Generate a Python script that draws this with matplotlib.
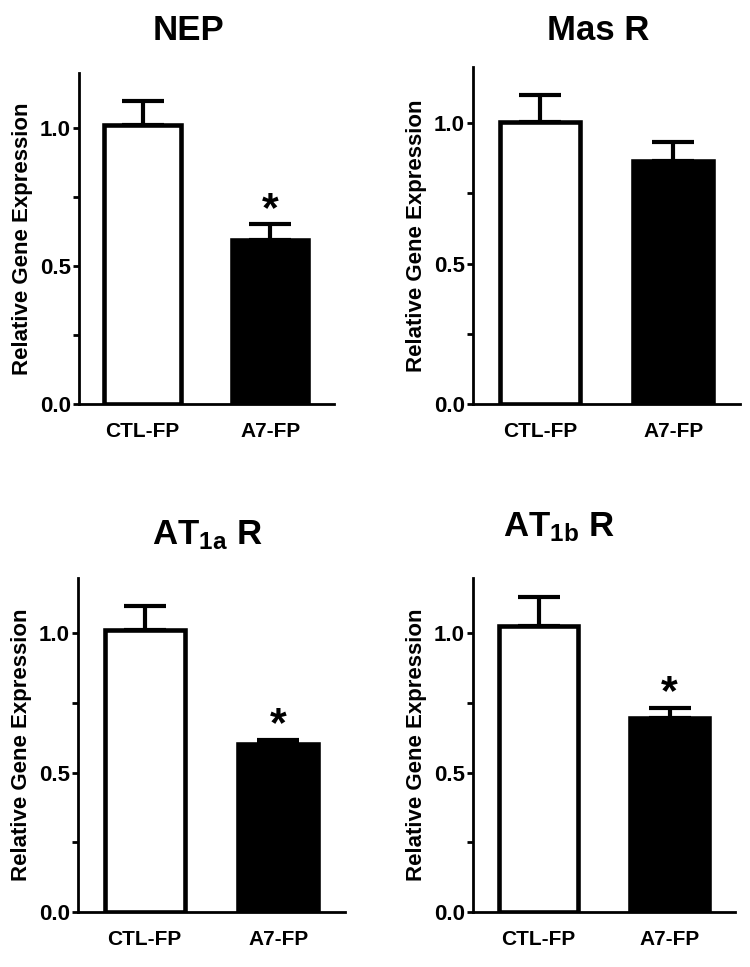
import numpy as np
import matplotlib
matplotlib.use("Agg")
import matplotlib.pyplot as plt

plt.rcParams['font.family'] = 'Liberation Sans'
plt.rcParams['font.weight'] = 'bold'
plt.rcParams['mathtext.fontset'] = 'custom'
plt.rcParams['mathtext.rm'] = 'Liberation Sans:bold'
plt.rcParams['mathtext.bf'] = 'Liberation Sans:bold'
plt.rcParams['mathtext.it'] = 'Liberation Sans:bold'

# data
titles = ['NEP', 'Mas R', r'AT$_{\mathbf{1a}}$ R', r'AT$_{\mathbf{1b}}$ R']
groups = ['CTL-FP', 'A7-FP']
nep_mean, nep_err = [1.01, 0.595], [0.09, 0.057]
mas_mean, mas_err = [1.005, 0.865], [0.095, 0.066]
at1a_mean, at1a_err = [1.013, 0.603], [0.085, 0.014]
at1b_mean, at1b_err = [1.025, 0.695], [0.105, 0.038]
signif = [[False, True], [False, False], [False, True], [False, True]]

means = [nep_mean, mas_mean, at1a_mean, at1b_mean]
errs = [nep_err, mas_err, at1a_err, at1b_err]

# layout (figure fractions) and title placement per panel
axes_rects = [
    [0.1053, 0.5819, 0.3400, 0.3426],
    [0.6311, 0.5819, 0.3556, 0.3491],
    [0.1040, 0.0572, 0.3560, 0.3454],
    [0.6307, 0.0572, 0.3493, 0.3454],
]
title_xy = [(0.43, 1.10), (0.47, 1.08), (0.485, 1.10), (0.33, 1.125)]

fig = plt.figure(figsize=(7.5, 9.67), dpi=100)

for i in range(4):
    ax = fig.add_axes(axes_rects[i])
    x = np.arange(len(groups))
    ax.bar(x, means[i], width=0.6, color=['white', 'black'],
           edgecolor='black', linewidth=3.3, zorder=2)
    for j in range(len(groups)):
        ax.errorbar(x[j], means[i][j], yerr=[[0], [errs[i][j]]], fmt='none',
                    ecolor='black', elinewidth=3, capsize=15, capthick=3, zorder=1)
        if signif[i][j]:
            ax.annotate('*', (x[j], means[i][j] + errs[i][j]), xytext=(0, -4),
                        textcoords='offset points', ha='center', va='bottom',
                        fontsize=31, fontweight='bold')
    ax.set_xlim(-0.5, 1.5)
    ax.set_ylim(0, 1.2)
    ax.set_yticks([0.0, 0.5, 1.0])
    ax.set_yticklabels(['0.0', '0.5', '1.0'])
    ax.set_yticks([0.25, 0.75], minor=True)
    ax.set_xticks(x)
    ax.set_xticklabels(groups)
    ax.tick_params(axis='y', which='both', direction='out', length=4, width=2,
                   labelsize=16, pad=2)
    ax.tick_params(axis='x', length=0, labelsize=15, pad=13)
    ax.spines['top'].set_visible(False)
    ax.spines['right'].set_visible(False)
    ax.spines['left'].set_linewidth(2)
    ax.spines['bottom'].set_linewidth(2)
    ax.set_ylabel('Relative Gene Expression', fontsize=16, fontweight='bold', labelpad=5)
    ax.text(title_xy[i][0], title_xy[i][1], titles[i], transform=ax.transAxes,
            ha='center', va='baseline', fontsize=25, fontweight='bold')

fig.savefig('out.png', dpi=100, facecolor='white')
